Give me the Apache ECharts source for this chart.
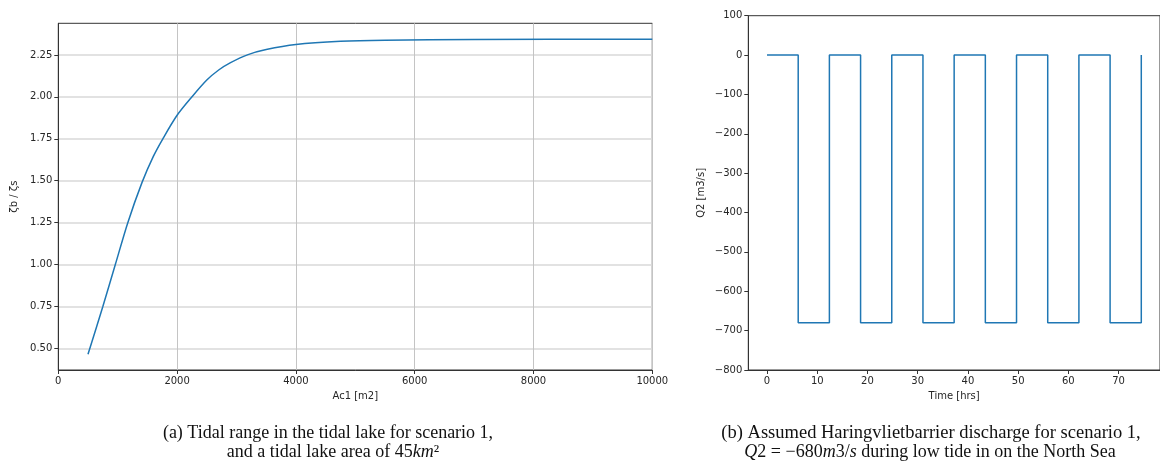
<!DOCTYPE html>
<html>
<head>
<meta charset="utf-8">
<script src="https://cdn.jsdelivr.net/npm/echarts@6/dist/echarts.min.js"></script>
<style>
  html, body { margin: 0; padding: 0; background: #fff; }
  #cv { width: 1160px; height: 461px; }
</style>
</head>
<body>
<div id="cv"></div>
<script>
// (a) tidal range ratio vs. Ac1 area
var acArea = [500, 750, 960, 1170, 1410, 1600, 1760, 2000, 2250, 2500, 2700, 2900, 3195, 3500, 4000, 4750, 5500, 7000, 10000];
var zetaRatio = [0.465, 0.75, 1.00, 1.25, 1.49, 1.645, 1.75, 1.89, 2.00, 2.10, 2.16, 2.204, 2.252, 2.282, 2.312, 2.331, 2.338, 2.342, 2.343];

// (b) barrier discharge (step function), hours / m3/s
var tideTime = [0, 6.21, 12.42, 18.63, 24.84, 31.05, 37.26, 43.47, 49.68, 55.89, 62.10, 68.31, 74.52];
var tideQ = [0, -680, 0, -680, 0, -680, 0, -680, 0, -680, 0, -680, 0];

var ratioTicks = [0.5, 0.75, 1.0, 1.25, 1.5, 1.75, 2.0, 2.25];
var timeTicks = [0, 10, 20, 30, 40, 50, 60, 70];

var myChart = echarts.init(document.getElementById('cv'));

var txt = '#262626';
var lbl = { color: txt, fontFamily: 'DejaVu Sans', fontSize: 10 };
function minus(v) { return String(v).replace('-', '\u2212'); }
function plain(v) { return String(v); }

var ratioData = acArea.map(function (a, i) { return [a, zetaRatio[i]]; });
var tideData = tideTime.map(function (t, i) { return [t, tideQ[i]]; });

var serif = { n: { fontFamily: 'Liberation Serif', fontSize: 18, fill: '#111' },
              i: { fontFamily: 'Liberation Serif', fontSize: 18, fontStyle: 'italic', fill: '#111' } };

option = {
    animation: false,
    grid: [
        { left: 58.3, top: 23.3, width: 594, height: 346.7, show: true, borderColor: '#333', borderWidth: 1 },
        { left: 748.3, top: 15.7, right: -11.4, bottom: 91, show: true, borderColor: '#333', borderWidth: 1 }
    ],
    xAxis: [
        {
            gridIndex: 0, type: 'value', min: 0, max: 10000, interval: 2000,
            name: 'Ac1 [m2]', nameLocation: 'middle', nameGap: 21, nameTextStyle: lbl,
            axisLine: { onZero: false, lineStyle: { color: '#333' } },
            axisTick: { length: 4, lineStyle: { color: '#333' } },
            axisLabel: Object.assign({ margin: 6, formatter: plain }, lbl),
            splitLine: { show: true, lineStyle: { color: '#c4c4c4', width: 1 } }
        },
        {
            gridIndex: 1, type: 'value', min: -3.726, max: 78.246,
            name: 'Time [hrs]', nameLocation: 'middle', nameGap: 21, nameTextStyle: lbl,
            axisLine: { onZero: false, lineStyle: { color: '#333' } },
            axisTick: { length: 4, lineStyle: { color: '#333' }, customValues: timeTicks },
            axisLabel: Object.assign({ margin: 6, customValues: timeTicks, formatter: plain }, lbl),
            splitLine: { show: false }
        }
    ],
    yAxis: [
        {
            gridIndex: 0, type: 'value', min: 0.3715, max: 2.4385,
            name: '\u03b6b / \u03b6s', nameLocation: 'middle', nameGap: 36, nameTextStyle: lbl,
            axisLine: { onZero: false, lineStyle: { color: '#333' } },
            axisTick: { length: 4, lineStyle: { color: '#333' }, customValues: ratioTicks },
            axisLabel: Object.assign({ margin: 6, customValues: ratioTicks, formatter: function (v) { return v.toFixed(2); } }, lbl),
            splitLine: { show: true, lineStyle: { color: '#d9d9d9', width: 1.5 } }
        },
        {
            gridIndex: 1, type: 'value', min: -800, max: 100, interval: 100,
            name: 'Q2 [m3/s]', nameLocation: 'middle', nameGap: 42, nameTextStyle: lbl,
            axisLine: { onZero: false, lineStyle: { color: '#333' } },
            axisTick: { length: 4, lineStyle: { color: '#333' } },
            axisLabel: Object.assign({ margin: 6, formatter: minus }, lbl),
            splitLine: { show: false }
        }
    ],
    series: [
        {
            type: 'line', xAxisIndex: 0, yAxisIndex: 0,
            data: ratioData, smooth: 0.3,
            showSymbol: false, lineStyle: { color: '#1f77b4', width: 1.5 }
        },
        {
            type: 'line', xAxisIndex: 1, yAxisIndex: 1,
            data: tideData, step: 'end',
            showSymbol: false, lineStyle: { color: '#1f77b4', width: 1.5 }
        }
    ],
    graphic: [
        {
            type: 'text', x: 328, y: 433, z: 10,
            style: { text: '(a) Tidal range in the tidal lake for scenario 1,', fill: '#111', font: '18px "Liberation Serif"', align: 'center', verticalAlign: 'middle' }
        },
        {
            type: 'text', x: 333, y: 452, z: 10,
            style: { text: '{n|and a tidal lake area of 45}{i|km}{n|\u00b2}', align: 'center', verticalAlign: 'middle', rich: serif }
        },
        {
            type: 'text', x: 931, y: 433, z: 10,
            style: { text: '(b) Assumed Haringvlietbarrier discharge for scenario 1,', fill: '#111', font: '18.5px "Liberation Serif"', align: 'center', verticalAlign: 'middle' }
        },
        {
            type: 'text', x: 930, y: 452, z: 10,
            style: { text: '{i|Q}{n|2 = \u2212680}{i|m}{n|3/}{i|s}{n| during low tide in on the North Sea}', align: 'center', verticalAlign: 'middle', rich: serif }
        }
    ]
};

myChart.setOption(option);
</script>
</body>
</html>
